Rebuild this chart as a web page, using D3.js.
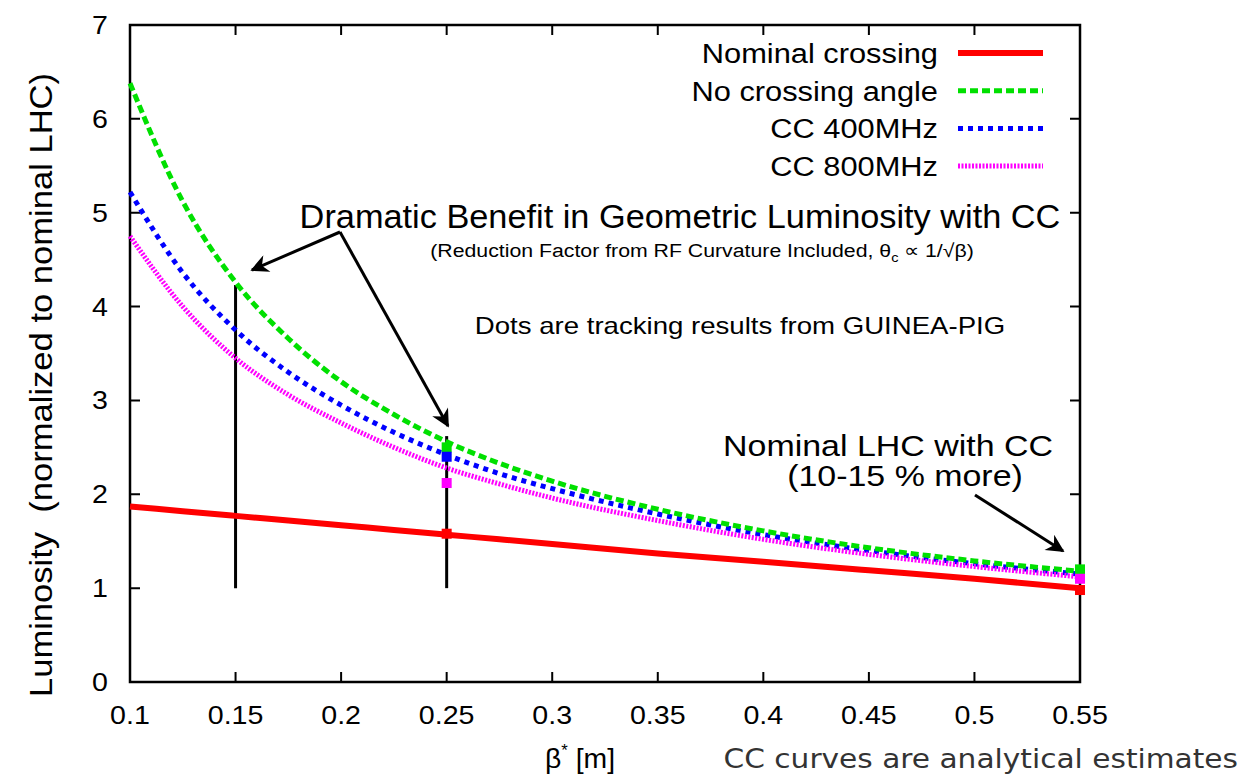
<!DOCTYPE html>
<html>
<head>
<meta charset="utf-8">
<script src="https://d3js.org/d3.v7.min.js"></script>
<style>
  body { margin: 0; background: #fff; }
  text { font-family: "Liberation Sans", Arial, sans-serif; fill: #000; }
</style>
</head>
<body>
<div id="chart"></div>
<script>
// beta* grid (m) and luminosity values
var betaGrid = [0.1, 0.125, 0.15, 0.175, 0.2, 0.225, 0.25, 0.275, 0.3, 0.35, 0.4, 0.45, 0.5, 0.55];
var nominal  = [1.87, 1.82, 1.77, 1.72, 1.67, 1.62, 1.57, 1.52, 1.47, 1.37, 1.28, 1.19, 1.10, 1.00];
var noCross  = [6.38, 5.12, 4.26, 3.66, 3.20, 2.85, 2.56, 2.33, 2.14, 1.84, 1.61, 1.43, 1.29, 1.18];
var cc400    = [5.22, 4.36, 3.75, 3.30, 2.95, 2.66, 2.42, 2.22, 2.06, 1.79, 1.57, 1.40, 1.26, 1.15];
var cc800    = [4.75, 4.00, 3.45, 3.06, 2.76, 2.50, 2.28, 2.11, 1.96, 1.72, 1.52, 1.36, 1.23, 1.12];

var seriesNames = ["Nominal crossing", "No crossing angle", "CC 400MHz", "CC 800MHz"];

// tracking results (dots)
var dotBeta  = [0.25, 0.25, 0.25, 0.25, 0.55, 0.55, 0.55];
var dotLumi  = [1.58, 2.50, 2.40, 2.12, 0.98, 1.20, 1.10];
var dotSeries = [0, 1, 2, 3, 0, 1, 3];

var xTicks = [0.1, 0.15, 0.2, 0.25, 0.3, 0.35, 0.4, 0.45, 0.5, 0.55];
var yTicks = [0, 1, 2, 3, 4, 5, 6, 7];

var W = 1244, H = 779;
var m = { left: 130, right: 164, top: 25, bottom: 97 };
var iw = W - m.left - m.right, ih = H - m.top - m.bottom;

var x = d3.scaleLinear().domain([0.1, 0.55]).range([0, iw]);
var y = d3.scaleLinear().domain([0, 7]).range([ih, 0]);

var styles = [
  { color: "#ff0000", width: 6, dash: null },
  { color: "#00e000", width: 5, dash: "8,4" },
  { color: "#0000ff", width: 5, dash: "5,5" },
  { color: "#ff00ff", width: 5, dash: "2,1.5" }
];
var allSeries = [nominal, noCross, cc400, cc800];

var svg = d3.select("#chart").append("svg")
    .attr("width", W).attr("height", H);

svg.append("defs").append("marker")
    .attr("id", "arrow")
    .attr("viewBox", "0 0 10 10")
    .attr("refX", 9).attr("refY", 5)
    .attr("markerWidth", 7).attr("markerHeight", 6)
    .attr("markerUnits", "strokeWidth")
    .attr("orient", "auto")
  .append("path")
    .attr("d", "M0,0 L10,5 L0,10 L3,5 Z")
    .attr("fill", "#000");

// text with a horizontal stretch (the reference lettering is a bit wide)
function label(parent, px, py, str, size, anchor, sx, rot) {
  var t = parent.append("g")
      .attr("transform", "translate(" + px + "," + py + ")" + (rot ? " rotate(" + rot + ")" : "") + " scale(" + sx + ",1)")
    .append("text")
      .attr("text-anchor", anchor || "start")
      .style("font-size", size + "px");
  if (str !== null) t.text(str);
  return t;
}

var g = svg.append("g").attr("transform", "translate(" + m.left + "," + m.top + ")");

// frame
g.append("rect").attr("width", iw).attr("height", ih)
    .attr("fill", "none").attr("stroke", "#000").attr("stroke-width", 2.5);

// ticks (inside, mirrored)
var tl = 10;
g.selectAll(".xt").data(xTicks).enter().append("path")
    .attr("d", function (d) { return "M" + x(d) + "," + ih + "v" + (-tl) + "M" + x(d) + ",0v" + tl; })
    .attr("stroke", "#000").attr("stroke-width", 2);
g.selectAll(".yt").data(yTicks).enter().append("path")
    .attr("d", function (d) { return "M0," + y(d) + "h" + tl + "M" + iw + "," + y(d) + "h" + (-tl); })
    .attr("stroke", "#000").attr("stroke-width", 2);

// tick labels
xTicks.forEach(function (d) { label(g, x(d), ih + 42, String(d), 26, "middle", 1.1); });
yTicks.forEach(function (d) { label(g, -22, y(d) + 9, String(d), 26, "end", 1.1); });

// axis titles
label(svg, 52, 385, "Luminosity\u00a0\u00a0(normalized to nominal LHC)", 32, "middle", 1.08, -90);

var bt = label(svg, 545, 768, null, 27, "start", 1.05);
bt.append("tspan").text("β");
bt.append("tspan").attr("dy", -12).style("font-size", "16px").text("*");
bt.append("tspan").attr("dy", 12).text(" [m]");

label(svg, 1238, 768, "CC curves are analytical estimates", 26, "end", 1.14)
    .style("font-family", "'DejaVu Sans', sans-serif")
    .style("fill", "#333");

// vertical markers
var vLines = [[0.15, 1, 4.23], [0.25, 1, 2.62]];
g.selectAll(".vl").data(vLines).enter().append("line")
    .attr("x1", function (d) { return x(d[0]); }).attr("x2", function (d) { return x(d[0]); })
    .attr("y1", function (d) { return y(d[1]); }).attr("y2", function (d) { return y(d[2]); })
    .attr("stroke", "#000").attr("stroke-width", 3);

// curves
var line = d3.line()
    .x(function (d) { return x(d[0]); })
    .y(function (d) { return y(d[1]); })
    .curve(d3.curveMonotoneX);

[0, 2, 3, 1].forEach(function (i) {
  var s = styles[i];
  g.append("path")
      .datum(betaGrid.map(function (b, k) { return [b, allSeries[i][k]]; }))
      .attr("d", line)
      .attr("fill", "none")
      .attr("stroke", s.color)
      .attr("stroke-width", s.width)
      .attr("stroke-dasharray", s.dash);
});

// tracking dots
g.selectAll(".dot").data(dotBeta).enter().append("rect")
    .attr("x", function (d) { return x(d) - 5; })
    .attr("y", function (d, i) { return y(dotLumi[i]) - 5; })
    .attr("width", 10).attr("height", 10)
    .attr("fill", function (d, i) { return styles[dotSeries[i]].color; });

// legend
var leg = svg.append("g");
seriesNames.forEach(function (name, i) {
  var ly = 53 + i * 37.7;
  label(leg, 938, ly + 10, name, 28, "end", 1.1);
  leg.append("line")
      .attr("x1", 958).attr("x2", 1043).attr("y1", ly).attr("y2", ly)
      .attr("stroke", styles[i].color)
      .attr("stroke-width", styles[i].width)
      .attr("stroke-dasharray", styles[i].dash);
});

// annotations
label(svg, 680, 228, "Dramatic Benefit in Geometric Luminosity with CC", 33, "middle", 1.04);
var sub = label(svg, 702, 257, null, 19, "middle", 1.12);
sub.append("tspan").text("(Reduction Factor from RF Curvature Included, θ");
sub.append("tspan").attr("dy", 5).style("font-size", "13px").text("c");
sub.append("tspan").attr("dy", -5).text(" ∝ 1/√β)");

label(svg, 740, 334, "Dots are tracking results from GUINEA-PIG", 23, "middle", 1.2);

label(svg, 888, 456, "Nominal LHC with CC", 29, "middle", 1.17);
label(svg, 905, 486, "(10-15 % more)", 29, "middle", 1.17);

var arrows = [[340, 232, 252, 270], [340, 232, 448, 426], [975, 495, 1063, 551]];
svg.selectAll(".arr").data(arrows).enter().append("line")
    .attr("x1", function (d) { return d[0]; }).attr("y1", function (d) { return d[1]; })
    .attr("x2", function (d) { return d[2]; }).attr("y2", function (d) { return d[3]; })
    .attr("stroke", "#000").attr("stroke-width", 3)
    .attr("marker-end", "url(#arrow)");
</script>
</body>
</html>
